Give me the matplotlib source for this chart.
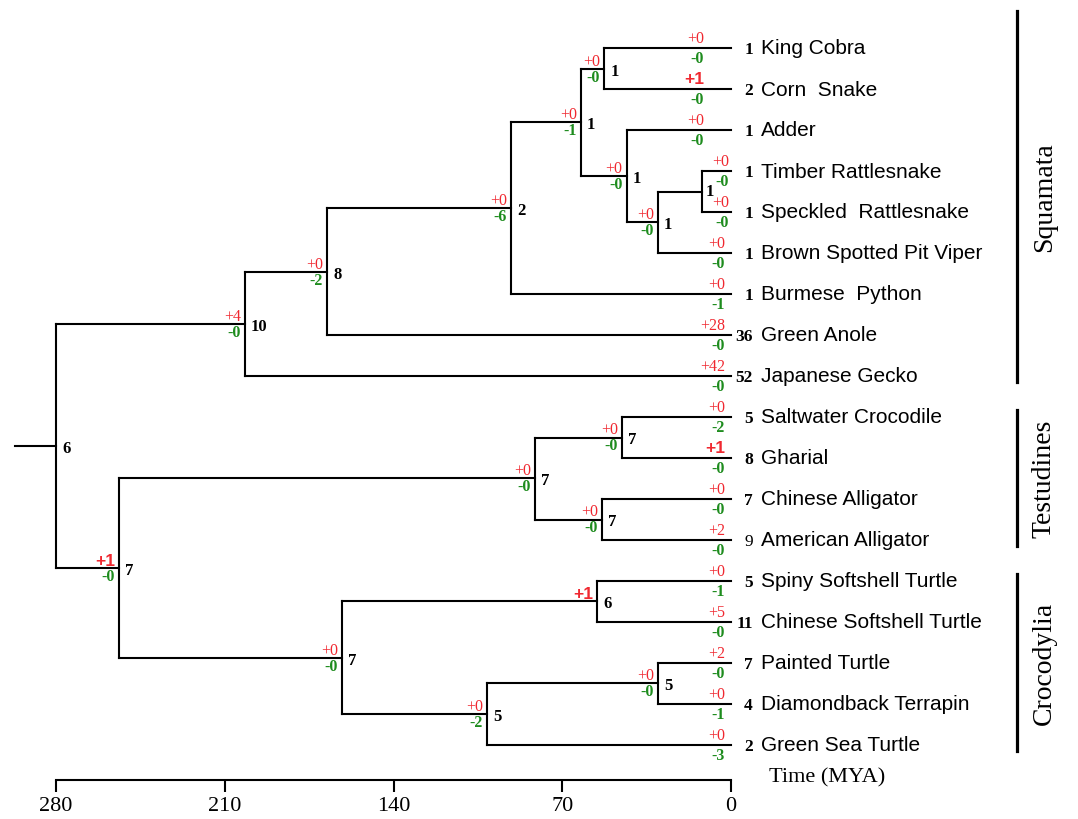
import matplotlib
matplotlib.use("Agg")
from matplotlib import pyplot as plt

# leaves, top to bottom
leaves = ["King Cobra", "Corn  Snake", "Adder", "Timber Rattlesnake",
          "Speckled  Rattlesnake", "Brown Spotted Pit Viper", "Burmese  Python",
          "Green Anole", "Japanese Gecko", "Saltwater Crocodile", "Gharial",
          "Chinese Alligator", "American Alligator", "Spiny Softshell Turtle",
          "Chinese Softshell Turtle", "Painted Turtle", "Diamondback Terrapin",
          "Green Sea Turtle"]
leaf_count = [1, 2, 1, 1, 1, 1, 1, 36, 52, 5, 8, 7, 9, 5, 11, 7, 4, 2]
leaf_gain = [0, 1, 0, 0, 0, 0, 0, 28, 42, 0, 1, 0, 2, 0, 5, 2, 0, 0]
leaf_loss = [0, 0, 0, 0, 0, 0, 1, 0, 0, 2, 0, 0, 0, 1, 0, 0, 1, 3]

# internal nodes (age in MYA)
node_ids = ["root", "n1", "n2", "n3", "n4", "n5", "n6", "n7", "n8",
            "n9", "n10", "n11", "n12", "n13", "n14", "n15", "n16"]
node_age = [280, 201.6, 167.5, 91.3, 62.3, 52.6, 43.3, 30.4, 12.0,
            253.9, 81.3, 45.3, 53.5, 161.4, 55.6, 101.3, 30.3]
node_children = [
    ["n1", "n9"],
    ["n2", "Japanese Gecko"],
    ["n3", "Green Anole"],
    ["n4", "Burmese  Python"],
    ["n5", "n6"],
    ["King Cobra", "Corn  Snake"],
    ["Adder", "n7"],
    ["n8", "Brown Spotted Pit Viper"],
    ["Timber Rattlesnake", "Speckled  Rattlesnake"],
    ["n10", "n13"],
    ["n11", "n12"],
    ["Saltwater Crocodile", "Gharial"],
    ["Chinese Alligator", "American Alligator"],
    ["n14", "n15"],
    ["Spiny Softshell Turtle", "Chinese Softshell Turtle"],
    ["n16", "Green Sea Turtle"],
    ["Painted Turtle", "Diamondback Terrapin"],
]
node_count = [6, 10, 8, 2, 1, 1, 1, 1, 1, 7, 7, 7, 7, 7, 6, 5, 5]
node_gain = [None, 4, 0, 0, 0, 0, 0, 0, None, 1, 0, 0, 0, 0, 1, 0, 0]
node_loss = [None, 0, 2, 6, 1, 0, 0, 0, None, 0, 0, 0, 0, 0, None, 2, 0]

groups = ["Squamata", "Testudines", "Crocodylia"]
group_first = ["King Cobra", "Saltwater Crocodile", "Spiny Softshell Turtle"]
group_last = ["Japanese Gecko", "American Alligator", "Green Sea Turtle"]

time_ticks = [280, 210, 140, 70, 0]

RED = "#f02830"
GREEN = "#1e8c1e"
SERIF = "Liberation Serif"
SANS = "Liberation Sans"
PT = 0.72  # points per pixel at dpi 100

fig = plt.figure(figsize=(10.78, 8.2), dpi=100)
ax = fig.add_axes([56 / 1078, 39 / 820, 675 / 1078, 781 / 820])
ax.set_xlim(280, 0)
ax.set_ylim(17 + 35 / 41, -49 / 41)

age = {n: a for n, a in zip(node_ids, node_age)}
ypos = {name: i for i, name in enumerate(leaves)}
for name in leaves:
    age[name] = 0.0
kids = dict(zip(node_ids, node_children))


def place(n):
    if n in ypos:
        return ypos[n]
    ys = [place(c) for c in kids[n]]
    ypos[n] = (ys[0] + ys[-1]) / 2
    return ypos[n]


place("root")

lw = 1.5
for n in node_ids:
    ys = [ypos[c] for c in kids[n]]
    ax.plot([age[n], age[n]], [min(ys), max(ys)], color="black", lw=lw,
            solid_capstyle="projecting", clip_on=False)
    for c in kids[n]:
        ax.plot([age[n], age[c]], [ypos[c], ypos[c]], color="black", lw=lw,
                solid_capstyle="projecting", clip_on=False)
# root stem
ax.plot([297, 280], [ypos["root"]] * 2, color="black", lw=lw, clip_on=False)


def tag(x, y, gain, loss, gap, dy=9):
    if gain is not None:
        if gain == 1:
            kw = dict(family=SANS, fontweight="bold", fontsize=12.5)
        else:
            kw = dict(family=SERIF, fontsize=11.5)
        ax.annotate(f"+{gain}", (x, y), xytext=(-gap * PT, dy * PT),
                    textcoords="offset points", ha="right", va="center",
                    color=RED, annotation_clip=False, **kw)
    if loss is not None:
        ax.annotate(f"-{loss}", (x, y), xytext=(-gap * PT, -dy * PT),
                    textcoords="offset points", ha="right", va="center",
                    color=GREEN, family=SERIF, fontsize=11.5, fontweight="bold",
                    annotation_clip=False)


for i, n in enumerate(node_ids):
    tag(age[n], ypos[n], node_gain[i], node_loss[i], 4, 8)
    ax.annotate(str(node_count[i]), (age[n], ypos[n]),
                xytext=((4 if n == "n8" else 6) * PT, (0 if n == "n8" else -2) * PT),
                textcoords="offset points", ha="left", va="center",
                family=SERIF, fontsize=12, fontweight="bold",
                annotation_clip=False)

for i, name in enumerate(leaves):
    gap = 27 if i < 3 else (2 if i in (3, 4) else 6)
    tag(0, i, leaf_gain[i], leaf_loss[i], gap, 10)
    ax.annotate(str(leaf_count[i]), (0, i), xytext=(22 * PT, -1 * PT),
                textcoords="offset points", ha="right", va="center",
                family=SERIF, fontsize=12.5,
                fontweight="normal" if name == "American Alligator" else "bold",
                annotation_clip=False)
    ax.annotate(name, (0, i), xytext=(30 * PT, 0),
                textcoords="offset points", ha="left", va="center",
                family=SANS, fontsize=15, annotation_clip=False)

# group brackets
bx = -118.5
for g, a, b in zip(groups, group_first, group_last):
    top = ypos[a] - (0.9 if g == "Squamata" else 0.18)
    bot = ypos[b] + 0.14
    ax.plot([bx, bx], [top, bot], color="black", lw=2.3, clip_on=False)
    ax.text(bx - 11.5, (top + bot) / 2, g, rotation=90, ha="center",
            va="center", family=SERIF, fontsize=20, clip_on=False)

# time axis
for s in ["top", "right", "left"]:
    ax.spines[s].set_visible(False)
ax.spines["bottom"].set_linewidth(1.5)
ax.set_yticks([])
ax.set_xticks(time_ticks)
ax.set_xticklabels([str(t) for t in time_ticks], family=SERIF, fontsize=16)
ax.tick_params(axis="x", direction="out", length=8.5, width=1.5, pad=3)
ax.annotate("Time (MYA)", (0, 0), xycoords=("data", "axes fraction"),
            xytext=(38 * PT, 3 * PT), textcoords="offset points",
            ha="left", va="center", family=SERIF, fontsize=16,
            annotation_clip=False)

fig.savefig("out.png", dpi=100)
